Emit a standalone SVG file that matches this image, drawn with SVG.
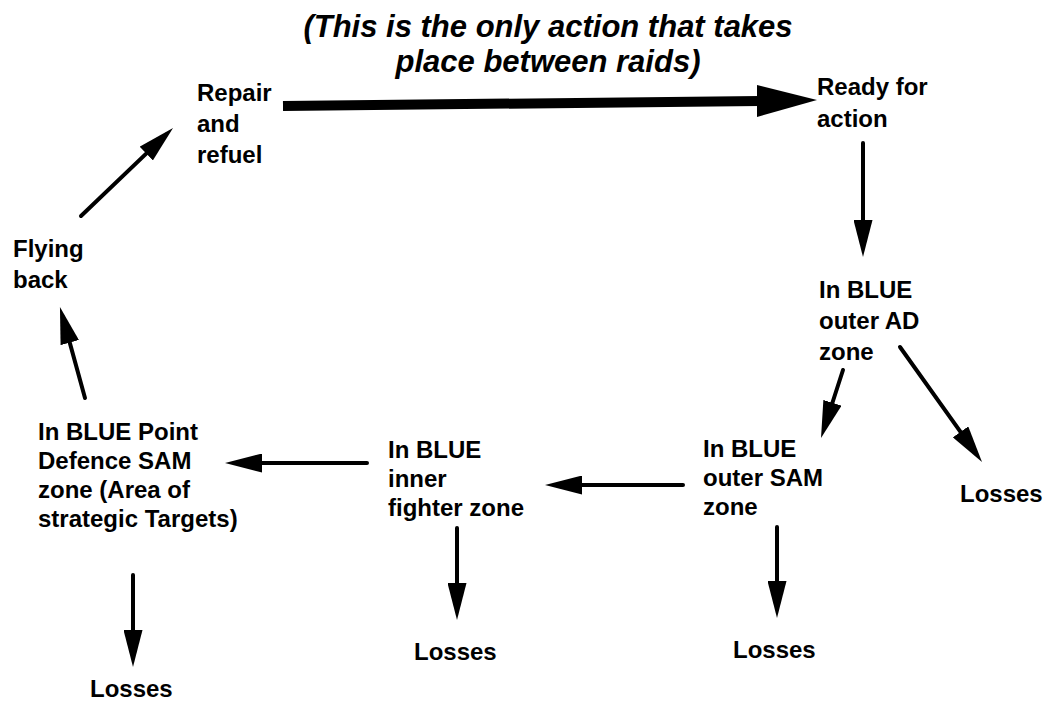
<svg xmlns="http://www.w3.org/2000/svg" width="1055" height="713" viewBox="0 0 1055 713">
<defs>
<style>
.t{font-family:"Liberation Sans",Arial,sans-serif;font-weight:bold;font-size:24px;fill:#000}
.title{font-family:"Liberation Sans",Arial,sans-serif;font-weight:bold;font-style:italic;font-size:31px;fill:#000;text-anchor:middle}
.c{stroke:#000;stroke-width:4;fill:none;stroke-linecap:round;marker-end:url(#ah)}
</style>
<marker id="ah" markerUnits="userSpaceOnUse" markerWidth="37" markerHeight="19" refX="27" refY="9.5" orient="auto" viewBox="0 0 37 19">
<path d="M0,0 L37,9.5 L0,19 z" fill="#000"/>
</marker>
</defs>
<rect width="1055" height="713" fill="#fff"/>
<g id="title">
<text class="title" x="548" y="37">(This is the only action that takes</text>
<text class="title" x="548" y="72">place between raids)</text>
</g>
<g id="repair"><text class="t" x="197" y="101">Repair</text><text class="t" x="197" y="132">and</text><text class="t" x="197" y="163">refuel</text></g>
<g id="ready"><text class="t" x="817" y="95">Ready for</text><text class="t" x="817" y="127">action</text></g>
<g id="outerAD"><text class="t" x="819" y="298">In BLUE</text><text class="t" x="819" y="329">outer AD</text><text class="t" x="819" y="360">zone</text></g>
<g id="lossesAD"><text class="t" x="960" y="502">Losses</text></g>
<g id="outerSAM"><text class="t" x="703" y="457">In BLUE</text><text class="t" x="703" y="486">outer SAM</text><text class="t" x="703" y="515">zone</text></g>
<g id="lossesSAM"><text class="t" x="733" y="658">Losses</text></g>
<g id="innerFighter"><text class="t" x="388" y="458">In BLUE</text><text class="t" x="388" y="487">inner</text><text class="t" x="388" y="516">fighter zone</text></g>
<g id="lossesInner"><text class="t" x="414" y="660">Losses</text></g>
<g id="pointDefence"><text class="t" x="38" y="440">In BLUE Point</text><text class="t" x="38" y="469">Defence SAM</text><text class="t" x="38" y="498">zone (Area of</text><text class="t" x="38" y="527">strategic Targets)</text></g>
<g id="lossesPoint"><text class="t" x="90" y="697">Losses</text></g>
<g id="flyingBack"><text class="t" x="13" y="257">Flying</text><text class="t" x="13" y="288">back</text></g>
<g id="connectors">
<path d="M283,106 L760,101" stroke="#000" stroke-width="10" fill="none"/>
<path d="M757,85 L817,100 L757,117 z" fill="#000"/>
<line class="c" x1="863" y1="143" x2="863" y2="247"/>
<line class="c" x1="843" y1="370" x2="824.1" y2="428.5"/>
<line class="c" x1="900" y1="347" x2="976.2" y2="453.9"/>
<line class="c" x1="683" y1="485" x2="555" y2="485"/>
<line class="c" x1="367" y1="463" x2="235" y2="463"/>
<line class="c" x1="777" y1="527" x2="777" y2="608"/>
<line class="c" x1="457" y1="528" x2="457" y2="610"/>
<line class="c" x1="133" y1="575" x2="133" y2="657"/>
<line class="c" x1="85" y1="398" x2="62.6" y2="316.6"/>
<line class="c" x1="81" y1="216" x2="165.8" y2="134.9"/>
</g>
</svg>
